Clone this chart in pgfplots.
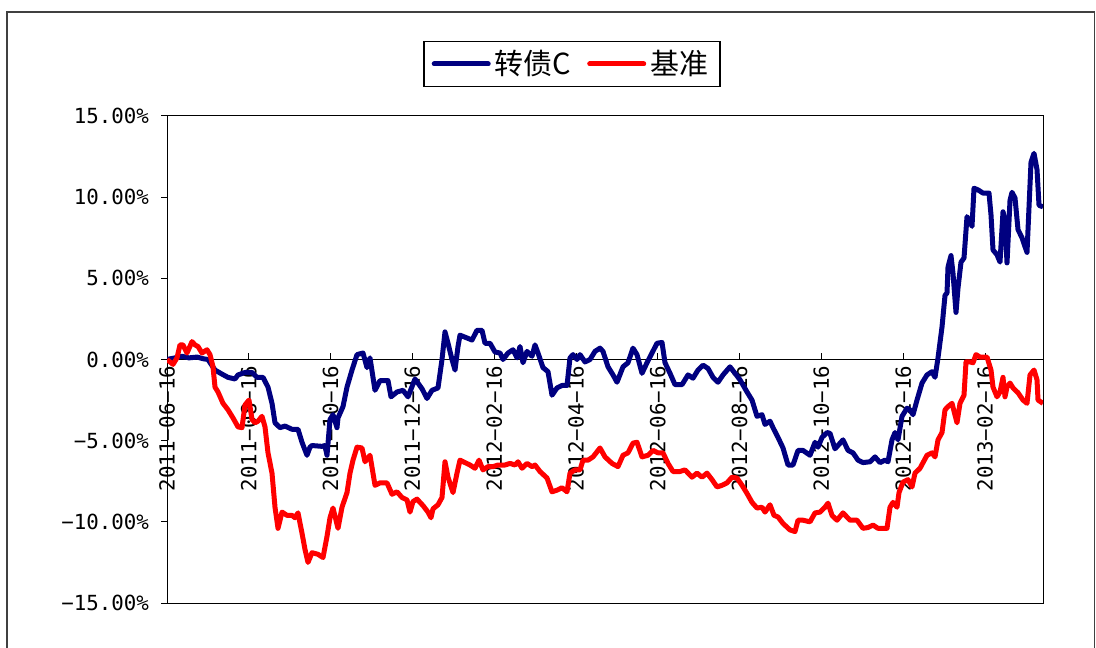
\documentclass[border=0pt]{standalone}
\usepackage{fontspec}
\usepackage{pgfplots}
\pgfplotsset{compat=1.18}
\newfontfamily\monofont{DejaVu Sans Mono}
\newfontfamily\cjk{Noto Sans CJK SC}
\definecolor{navyc}{RGB}{0,0,128}
\definecolor{redc}{RGB}{255,0,0}
\begin{document}
\begin{tikzpicture}
\useasboundingbox (0,0) rectangle (548pt,323.5pt);
\fill[white] (0,0) rectangle (548pt,323.5pt);
\draw[black!75, line width=0.8pt] (3.5pt,-20pt) -- (3.5pt,317.5pt) -- (547.3pt,317.5pt) -- (547.3pt,-20pt);
% x axis at zero
\begin{axis}[at={(83.5pt,22pt)}, anchor=south west, scale only axis,
  width=438pt, height=243.5pt, xmin=0, xmax=876, ymin=-15, ymax=15,
  axis x line=middle, axis y line=none,
  axis line style={-, black, line width=0.5pt},
  xtick={0,81.8,163.6,245.4,327.2,409,490.8,572.6,654.4,736.2,818},
  xticklabels={2011−06−16,2011−08−16,2011−10−16,2011−12−16,2012−02−16,2012−04−16,2012−06−16,2012−08−16,2012−10−16,2012−12−16,2013−02−16},
  tick align=inside, major tick length=3pt,
  tick style={black, line width=0.5pt},
  hide obscured x ticks=false,
  x tick label style={font=\monofont\fontsize{10.4}{12}\selectfont, rotate=90, anchor=east, inner sep=3pt},
  ytick=\empty]
\end{axis}
% data axis
\begin{axis}[at={(83.5pt,22pt)}, anchor=south west, scale only axis,
  width=438pt, height=243.5pt, xmin=0, xmax=876, ymin=-15, ymax=15,
  axis line style={black, line width=0.5pt},
  xtick=\empty,
  ytick={-15,-10,-5,0,5,10,15},
  yticklabels={−15.00\%,−10.00\%,−5.00\%,0.00\%,5.00\%,10.00\%,15.00\%},
  ytick pos=left, tick align=outside, major tick length=3pt,
  tick style={black, line width=0.5pt},
  y tick label style={font=\monofont\fontsize{10.4}{12}\selectfont, xshift=-2.5pt},
  legend columns=2,
  legend cell align=left,
  legend image code/.code={\draw[#1, line cap=round] (0pt,0pt) -- (27pt,0pt);},
  legend style={at={(0.4623,1.1068)}, anchor=center, draw=black, line width=0.8pt,
    font=\cjk\fontsize{14.5}{16}\selectfont, inner xsep=4pt, inner ysep=2.5pt,
    nodes={inner xsep=2pt, inner ysep=2pt},
    /tikz/every even column/.append style={column sep=6pt}},
  ]
\addplot[navyc, line width=2.5pt, line join=round] coordinates {
(0,0) (8,0.1) (15,0.2) (22,0.1) (30,0.15) (36,0.05) (41,0) (48,-0.65) (55,-0.9) (61,-1.1) (68,-1.2) (71,-0.95) (78,-0.8) (85,-0.8) (90,-1.1) (96,-1.1) (101,-1.7) (105,-2.7) (108,-3.9) (113,-4.2) (118,-4.1) (125,-4.3) (131,-4.3) (135,-5.1) (140,-5.9) (143,-5.4) (145,-5.3) (155,-5.35) (158,-5.3) (160,-5.9) (163,-3.7) (166,-3.4) (170,-4.2) (171,-3.6) (176,-2.9) (180,-1.7) (185,-0.65) (190,0.3) (196,0.4) (200,-0.5) (203,0.1) (208,-1.9) (213,-1.3) (221,-1.3) (224,-2.3) (230,-2.0) (236,-1.9) (241,-2.3) (248,-1.2) (255,-1.8) (260,-2.4) (265,-1.9) (271,-1.75) (275,0.0) (278,1.7) (281,1.0) (285,0.0) (288,-0.65) (291,0.8) (293,1.5) (305,1.2) (310,1.8) (315,1.8) (318,1.0) (323,1.0) (328,0.46) (333,0.4) (336,0.0) (341,0.4) (346,0.6) (350,0.1) (353,0.8) (356,-0.2) (360,0.5) (365,0.2) (368,0.9) (371,0.4) (376,-0.5) (381,-0.75) (385,-2.2) (390,-1.75) (395,-1.6) (400,-1.6) (403,0.1) (406,0.3) (410,0.0) (413,0.3) (418,-0.15) (423,0.0) (428,0.5) (433,0.7) (436,0.5) (441,-0.45) (446,-0.95) (450,-1.4) (456,-0.45) (461,-0.2) (466,0.7) (470,0.3) (475,-0.85) (480,-0.2) (485,0.4) (490,1.0) (495,1.05) (498,-0.2) (503,-0.85) (508,-1.55) (515,-1.55) (521,-0.95) (526,-1.15) (531,-0.65) (536,-0.35) (541,-0.55) (546,-1.1) (551,-1.4) (556,-0.95) (563,-0.45) (568,-0.85) (573,-1.25) (580,-2.0) (585,-2.5) (590,-3.5) (595,-3.4) (598,-4.0) (603,-3.8) (606,-4.2) (611,-4.8) (616,-5.45) (621,-6.5) (626,-6.5) (631,-5.6) (636,-5.6) (643,-5.9) (648,-5.1) (651,-5.4) (655,-4.8) (660,-4.5) (663,-4.55) (668,-5.5) (676,-4.95) (681,-5.6) (686,-5.75) (691,-6.2) (696,-6.35) (703,-6.3) (708,-6.0) (713,-6.35) (718,-6.2) (721,-6.3) (725,-4.95) (728,-4.5) (731,-4.95) (735,-3.5) (740,-3.0) (743,-3.1) (746,-3.4) (750,-2.5) (755,-1.45) (760,-0.95) (765,-0.75) (768,-1.1) (771,0.1) (775,2.0) (778,3.95) (780,4.1) (781,5.7) (784,6.4) (786,5.3) (789,2.9) (791,4.4) (794,6.0) (797,6.25) (800,8.8) (803,8.5) (805,8.2) (807,10.55) (811,10.45) (816,10.25) (822,10.25) (824,8.9) (826,6.75) (830,6.45) (833,6.0) (836,9.1) (838,8.6) (840,5.95) (843,9.8) (845,10.3) (848,9.95) (851,8.0) (855,7.5) (858,6.95) (860,6.6) (864,12.15) (867,12.7) (870,11.7) (872,9.5) (876,9.4)
};
\addlegendentry{转债C}
\addplot[redc, line width=2.5pt, line join=round] coordinates {
(0,0) (6,-0.3) (10,0.1) (13,0.9) (16,0.9) (20,0.4) (25,1.1) (28,0.9) (31,0.8) (35,0.4) (40,0.6) (43,0.3) (46,-0.45) (48,-1.7) (51,-2.0) (56,-2.7) (61,-3.1) (66,-3.6) (71,-4.15) (75,-4.2) (78,-2.8) (82,-2.5) (85,-3.7) (88,-3.9) (91,-3.8) (95,-3.5) (98,-4.15) (101,-5.75) (105,-7.0) (108,-9.1) (111,-10.4) (115,-9.4) (120,-9.6) (125,-9.6) (128,-9.75) (131,-9.45) (135,-10.7) (138,-11.7) (141,-12.5) (145,-11.9) (151,-12.0) (156,-12.2) (160,-10.9) (163,-9.75) (166,-9.15) (171,-10.4) (175,-9.1) (180,-8.2) (183,-7.0) (186,-6.2) (190,-5.4) (195,-5.45) (198,-6.3) (203,-5.9) (208,-7.75) (213,-7.6) (220,-7.6) (225,-8.3) (230,-8.15) (235,-8.5) (240,-8.65) (243,-9.4) (246,-8.75) (250,-8.6) (256,-9.0) (261,-9.4) (264,-9.75) (266,-9.2) (271,-8.95) (275,-8.5) (278,-6.3) (281,-7.25) (286,-8.2) (290,-7.0) (293,-6.2) (303,-6.5) (308,-6.7) (312,-6.2) (316,-6.8) (321,-6.6) (326,-6.6) (331,-6.5) (338,-6.5) (343,-6.4) (348,-6.5) (351,-6.3) (355,-6.7) (360,-6.4) (365,-6.6) (368,-6.5) (373,-6.9) (380,-7.3) (385,-8.15) (390,-8.05) (395,-7.9) (400,-8.15) (403,-7.0) (408,-6.8) (413,-6.8) (416,-6.2) (421,-6.2) (426,-6.0) (433,-5.45) (438,-6.0) (445,-6.4) (451,-6.6) (456,-5.9) (461,-5.75) (466,-5.15) (470,-5.1) (475,-6.0) (481,-5.9) (486,-5.6) (491,-5.75) (496,-5.75) (501,-6.4) (506,-6.9) (513,-6.9) (518,-6.8) (525,-7.25) (530,-7.0) (535,-7.25) (540,-7.0) (545,-7.4) (550,-7.85) (555,-7.75) (560,-7.6) (565,-7.25) (570,-7.3) (575,-7.75) (580,-8.25) (585,-8.8) (590,-9.15) (595,-9.1) (598,-9.4) (603,-8.95) (607,-9.6) (611,-9.7) (616,-10.1) (623,-10.5) (628,-10.6) (631,-9.9) (636,-9.9) (643,-10.0) (648,-9.45) (653,-9.4) (658,-9.1) (661,-8.85) (665,-9.6) (670,-9.9) (676,-9.45) (683,-9.9) (690,-9.9) (696,-10.4) (701,-10.35) (706,-10.2) (711,-10.4) (716,-10.4) (720,-10.4) (723,-9.1) (726,-8.8) (730,-9.1) (732,-8.2) (736,-7.55) (741,-7.4) (745,-7.85) (748,-7.0) (753,-6.7) (760,-5.9) (765,-5.75) (768,-6.0) (771,-4.95) (775,-4.5) (778,-3.1) (781,-2.9) (785,-2.7) (790,-3.9) (793,-2.7) (797,-2.2) (799,-0.15) (803,-0.15) (806,-0.2) (809,0.3) (813,0.15) (820,0.15) (824,-0.65) (826,-1.7) (830,-2.3) (833,-2.0) (836,-1.1) (838,-2.3) (840,-1.7) (843,-1.45) (846,-1.75) (851,-2.05) (856,-2.5) (860,-2.7) (863,-0.95) (867,-0.65) (870,-1.25) (871,-2.5) (876,-2.7)
};
\addlegendentry{基准}
\end{axis}
\end{tikzpicture}
\end{document}
